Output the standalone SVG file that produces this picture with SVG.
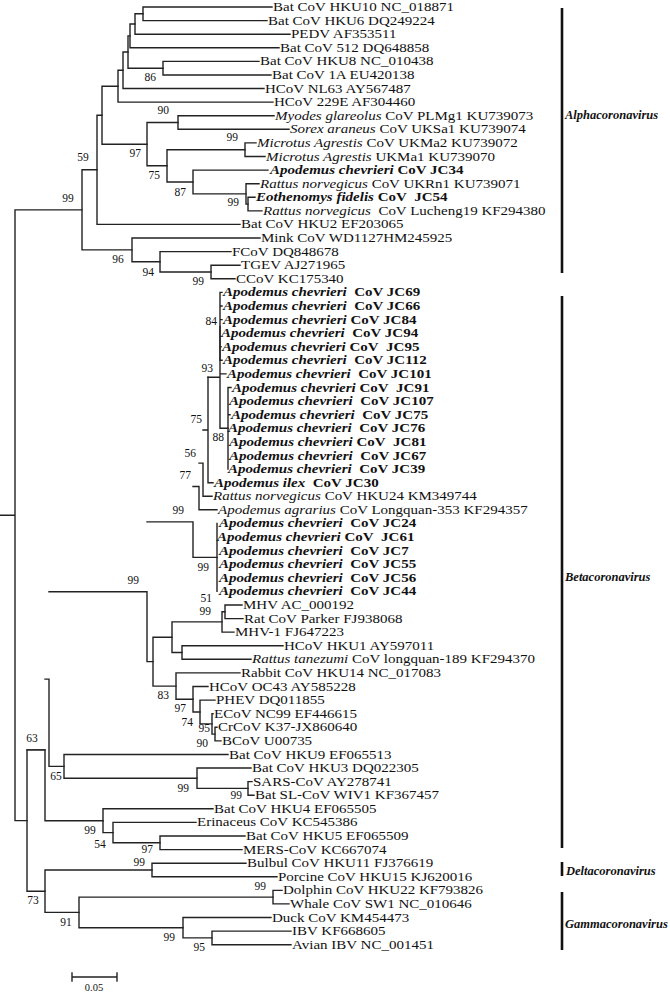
<svg xmlns="http://www.w3.org/2000/svg" width="670" height="992" viewBox="0 0 670 992">
<style>
text{font-family:"Liberation Serif","Times New Roman",serif;fill:#111}
.t text{font-size:12px}
.b{font-weight:bold}
.i{font-style:italic}
.bs text{font-size:11.5px;text-anchor:middle;fill:#111}
.cl{font-size:12.5px;font-weight:bold;font-style:italic}
.br{stroke:#222;stroke-width:1.4;fill:none;stroke-linecap:square}
.bar{stroke:#111;stroke-width:2.6}
</style>
<rect width="670" height="992" fill="#fff"/>
<g id="connectors" class="br">
<path d="M0,515.2 H15 M82,209.9 H15 V820.6 H27"/>
<path d="M97,169.8 H82 V249.9 H132"/>
<path d="M102,115.2 H97 V224.4 H240"/>
<path d="M118,86.2 H102 V144.2 H147"/>
<path d="M123,70.3 H118 V102.1 H273"/>
<path d="M128,52 H123 V88.5 H264"/>
<path d="M130,35.9 H128 V68.2 H163"/>
<path d="M135,24 H130 V47.8 H279"/>
<path d="M143,13.8 H135 V34.2 H290"/>
<path d="M272,7 H143 V20.6 H267"/>
<path d="M259,61.4 H163 V75 H271"/>
<path d="M178,122.5 H147 V165.8 H167"/>
<path d="M274,115.7 H178 V129.3 H289"/>
<path d="M245,149.7 H167 V182 H193"/>
<path d="M256,142.9 H245 V156.5 H265"/>
<path d="M268,170.1 H193 V193.9 H246"/>
<path d="M259,183.7 H246 V204.1 H248"/>
<path d="M255,197.3 H248 V210.9 H262"/>
<path d="M260,238 H132 V261.8 H160"/>
<path d="M231,251.6 H160 V272 H211"/>
<path d="M240,265.2 H211 V278.8 H235"/>
<path d="M220,292.4 V360.3 M220,292.4 H222 M220,306 H222 M220,319.6 H222 M220,346.8 H221 M220,360.3 H222"/>
<path d="M208,377.3 H220 M220,326.4 V428.3 H228 M220,373.9 H226"/>
<path d="M228,387.5 V469.1 M228,387.5 H231 M228,414.7 H230"/>
<path d="M203,430 H208 M208,377.3 V482.7 H213"/>
<path d="M199,463.1 H203 V496.2 H212"/>
<path d="M193,486.5 H199 V509.8 H217"/>
<path d="M147,521.9 H193 V557.4 H217"/>
<path d="M217,523.4 V591.4"/>
<path d="M49,591.8 H147 V661.6 H153"/>
<path d="M172,637.2 H153 V686.1 H176"/>
<path d="M222,621.9 H172 V652.5 H182"/>
<path d="M225,611.8 H222 V632.1 H234"/>
<path d="M242,605 H225 V618.6 H243"/>
<path d="M283,645.7 H182 V659.3 H251"/>
<path d="M240,672.9 H176 V699.2 H193"/>
<path d="M208,686.5 H193 V712 H200"/>
<path d="M215,700.1 H200 V723.9 H212"/>
<path d="M213,713.7 H212 V734.1 H215"/>
<path d="M217,727.3 H215 V740.9 H221"/>
<path d="M45,679.1 H49 V766.4 H64"/>
<path d="M228,754.5 H64 V778.2 H197"/>
<path d="M251,768 H197 V788.4 H248"/>
<path d="M252,781.6 H248 V795.2 H254"/>
<path d="M27,749.9 H45 V820.7 H103"/>
<path d="M213,808.8 H103 V832.6 H113"/>
<path d="M196,822.4 H113 V842.8 H160"/>
<path d="M245,836 H160 V849.6 H242"/>
<path d="M45,749.9 H27 V891.2 H45"/>
<path d="M152,870 H45 V912.4 H79"/>
<path d="M246,863.2 H152 V876.8 H277"/>
<path d="M273,897.1 H79 V927.7 H183"/>
<path d="M282,890.4 H273 V903.9 H289"/>
<path d="M271,917.5 H183 V937.9 H212"/>
<path d="M291,931.1 H212 V944.7 H291"/>
</g>
<g id="tips" class="t">
<g id="t01"><text transform="translate(273,11) scale(1.25,1)">Bat CoV HKU10 NC_018871</text></g>
<g id="t02"><text transform="translate(268,24.6) scale(1.25,1)">Bat CoV HKU6 DQ249224</text></g>
<g id="t03"><text transform="translate(291,38.2) scale(1.25,1)">PEDV AF353511</text></g>
<g id="t04"><text transform="translate(280,51.8) scale(1.25,1)">Bat CoV 512 DQ648858</text></g>
<g id="t05"><text transform="translate(260,65.4) scale(1.25,1)">Bat CoV HKU8 NC_010438</text></g>
<g id="t06"><text transform="translate(272,79) scale(1.25,1)">Bat CoV 1A EU420138</text></g>
<g id="t07"><text transform="translate(265,92.5) scale(1.25,1)">HCoV NL63 AY567487</text></g>
<g id="t08"><text transform="translate(274,106.1) scale(1.25,1)">HCoV 229E AF304460</text></g>
<g id="t09"><text transform="translate(275,119.7) scale(1.25,1)"><tspan class="i">Myodes glareolus</tspan> CoV PLMg1 KU739073</text></g>
<g id="t10"><text transform="translate(290,133.3) scale(1.25,1)"><tspan class="i">Sorex araneus</tspan> CoV UKSa1 KU739074</text></g>
<g id="t11"><text transform="translate(257,146.9) scale(1.25,1)"><tspan class="i">Microtus Agrestis</tspan> CoV UKMa2 KU739072</text></g>
<g id="t12"><text transform="translate(266,160.5) scale(1.25,1)"><tspan class="i">Microtus Agrestis</tspan> UKMa1 KU739070</text></g>
<g id="t13"><text transform="translate(270,174.1) scale(1.25,1)" class="b"><tspan class="i">Apodemus chevrieri</tspan> CoV JC34</text></g>
<g id="t14"><text transform="translate(260,187.7) scale(1.25,1)"><tspan class="i">Rattus norvegicus</tspan> CoV UKRn1 KU739071</text></g>
<g id="t15"><text transform="translate(256,201.3) scale(1.25,1)" class="b"><tspan class="i">Eothenomys fidelis</tspan> CoV&#160; JC54</text></g>
<g id="t16"><text transform="translate(263,214.9) scale(1.25,1)"><tspan class="i">Rattus norvegicus</tspan>&#160; CoV Lucheng19 KF294380</text></g>
<g id="t17"><text transform="translate(241,228.4) scale(1.25,1)">Bat CoV HKU2 EF203065</text></g>
<g id="t18"><text transform="translate(261,242) scale(1.25,1)">Mink CoV WD1127HM245925</text></g>
<g id="t19"><text transform="translate(232,255.6) scale(1.25,1)">FCoV DQ848678</text></g>
<g id="t20"><text transform="translate(241,269.2) scale(1.25,1)">TGEV AJ271965</text></g>
<g id="t21"><text transform="translate(236,282.8) scale(1.25,1)">CCoV KC175340</text></g>
<g id="t22"><text transform="translate(223,296.4) scale(1.25,1)" class="b"><tspan class="i">Apodemus chevrieri</tspan>&#160; CoV JC69</text></g>
<g id="t23"><text transform="translate(223,310) scale(1.25,1)" class="b"><tspan class="i">Apodemus chevrieri</tspan>&#160; CoV JC66</text></g>
<g id="t24"><text transform="translate(223,323.6) scale(1.25,1)" class="b"><tspan class="i">Apodemus chevrieri</tspan> CoV JC84</text></g>
<g id="t25"><text transform="translate(221,337.2) scale(1.25,1)" class="b"><tspan class="i">Apodemus chevrieri</tspan>&#160; CoV JC94</text></g>
<g id="t26"><text transform="translate(222,350.8) scale(1.25,1)" class="b"><tspan class="i">Apodemus chevrieri</tspan> CoV&#160; JC95</text></g>
<g id="t27"><text transform="translate(223,364.3) scale(1.25,1)" class="b"><tspan class="i">Apodemus chevrieri</tspan>&#160; CoV JC112</text></g>
<g id="t28"><text transform="translate(227,377.9) scale(1.25,1)" class="b"><tspan class="i">Apodemus chevrieri</tspan>&#160; CoV JC101</text></g>
<g id="t29"><text transform="translate(232,391.5) scale(1.25,1)" class="b"><tspan class="i">Apodemus chevrieri</tspan> CoV&#160; JC91</text></g>
<g id="t30"><text transform="translate(229,405.1) scale(1.25,1)" class="b"><tspan class="i">Apodemus chevrieri</tspan>&#160; CoV JC107</text></g>
<g id="t31"><text transform="translate(231,418.7) scale(1.25,1)" class="b"><tspan class="i">Apodemus chevrieri</tspan>&#160; CoV JC75</text></g>
<g id="t32"><text transform="translate(228,432.3) scale(1.25,1)" class="b"><tspan class="i">Apodemus chevrieri</tspan>&#160; CoV JC76</text></g>
<g id="t33"><text transform="translate(229,445.9) scale(1.25,1)" class="b"><tspan class="i">Apodemus chevrieri</tspan> CoV&#160; JC81</text></g>
<g id="t34"><text transform="translate(229,459.5) scale(1.25,1)" class="b"><tspan class="i">Apodemus chevrieri</tspan>&#160; CoV JC67</text></g>
<g id="t35"><text transform="translate(228,473.1) scale(1.25,1)" class="b"><tspan class="i">Apodemus chevrieri</tspan>&#160; CoV JC39</text></g>
<g id="t36"><text transform="translate(214,486.7) scale(1.25,1)" class="b"><tspan class="i">Apodemus ilex</tspan>&#160; CoV JC30</text></g>
<g id="t37"><text transform="translate(213,500.2) scale(1.25,1)"><tspan class="i">Rattus norvegicus</tspan> CoV HKU24 KM349744</text></g>
<g id="t38"><text transform="translate(218,513.8) scale(1.25,1)"><tspan class="i">Apodemus agrarius</tspan> CoV Longquan-353 KF294357</text></g>
<g id="t39"><text transform="translate(219,527.4) scale(1.25,1)" class="b"><tspan class="i">Apodemus chevrieri</tspan>&#160; CoV JC24</text></g>
<g id="t40"><text transform="translate(217,541) scale(1.25,1)" class="b"><tspan class="i">Apodemus chevrieri</tspan> CoV&#160; JC61</text></g>
<g id="t41"><text transform="translate(219,554.6) scale(1.25,1)" class="b"><tspan class="i">Apodemus chevrieri</tspan>&#160; CoV JC7</text></g>
<g id="t42"><text transform="translate(219,568.2) scale(1.25,1)" class="b"><tspan class="i">Apodemus chevrieri</tspan>&#160; CoV JC55</text></g>
<g id="t43"><text transform="translate(219,581.8) scale(1.25,1)" class="b"><tspan class="i">Apodemus chevrieri</tspan>&#160; CoV JC56</text></g>
<g id="t44"><text transform="translate(219,595.4) scale(1.25,1)" class="b"><tspan class="i">Apodemus chevrieri</tspan>&#160; CoV JC44</text></g>
<g id="t45"><text transform="translate(243,609) scale(1.25,1)">MHV AC_000192</text></g>
<g id="t46"><text transform="translate(244,622.6) scale(1.25,1)">Rat CoV Parker FJ938068</text></g>
<g id="t47"><text transform="translate(235,636.1) scale(1.25,1)">MHV-1 FJ647223</text></g>
<g id="t48"><text transform="translate(284,649.7) scale(1.25,1)">HCoV HKU1 AY597011</text></g>
<g id="t49"><text transform="translate(252,663.3) scale(1.25,1)"><tspan class="i">Rattus tanezumi</tspan> CoV longquan-189 KF294370</text></g>
<g id="t50"><text transform="translate(241,676.9) scale(1.25,1)">Rabbit CoV HKU14 NC_017083</text></g>
<g id="t51"><text transform="translate(209,690.5) scale(1.25,1)">HCoV OC43 AY585228</text></g>
<g id="t52"><text transform="translate(216,704.1) scale(1.25,1)">PHEV DQ011855</text></g>
<g id="t53"><text transform="translate(214,717.7) scale(1.25,1)">ECoV NC99 EF446615</text></g>
<g id="t54"><text transform="translate(218,731.3) scale(1.25,1)">CrCoV K37-JX860640</text></g>
<g id="t55"><text transform="translate(222,744.9) scale(1.25,1)">BCoV U00735</text></g>
<g id="t56"><text transform="translate(229,758.5) scale(1.25,1)">Bat CoV HKU9 EF065513</text></g>
<g id="t57"><text transform="translate(252,772) scale(1.25,1)">Bat CoV HKU3 DQ022305</text></g>
<g id="t58"><text transform="translate(253,785.6) scale(1.25,1)">SARS-CoV AY278741</text></g>
<g id="t59"><text transform="translate(255,799.2) scale(1.25,1)">Bat SL-CoV WIV1 KF367457</text></g>
<g id="t60"><text transform="translate(214,812.8) scale(1.25,1)">Bat CoV HKU4 EF065505</text></g>
<g id="t61"><text transform="translate(197,826.4) scale(1.25,1)">Erinaceus CoV KC545386</text></g>
<g id="t62"><text transform="translate(246,840) scale(1.25,1)">Bat CoV HKU5 EF065509</text></g>
<g id="t63"><text transform="translate(243,853.6) scale(1.25,1)">MERS-CoV KC667074</text></g>
<g id="t64"><text transform="translate(247,867.2) scale(1.25,1)">Bulbul CoV HKU11 FJ376619</text></g>
<g id="t65"><text transform="translate(278,880.8) scale(1.25,1)">Porcine CoV HKU15 KJ620016</text></g>
<g id="t66"><text transform="translate(283,894.4) scale(1.25,1)">Dolphin CoV HKU22 KF793826</text></g>
<g id="t67"><text transform="translate(290,907.9) scale(1.25,1)">Whale CoV SW1 NC_010646</text></g>
<g id="t68"><text transform="translate(272,921.5) scale(1.25,1)">Duck CoV KM454473</text></g>
<g id="t69"><text transform="translate(292,935.1) scale(1.25,1)">IBV KF668605</text></g>
<g id="t70"><text transform="translate(292,948.7) scale(1.25,1)">Avian IBV NC_001451</text></g>
</g>
<g id="bootstrap" class="bs" fill="#111" transform="scale(1.001,1)">
<text x="150" y="81">86</text>
<text x="163" y="114">90</text>
<text x="135" y="157">97</text>
<text x="232" y="141">99</text>
<text x="154" y="179">75</text>
<text x="180" y="196">87</text>
<text x="233" y="206">99</text>
<text x="83" y="161">59</text>
<text x="68" y="202">99</text>
<text x="118" y="263">96</text>
<text x="148" y="276">94</text>
<text x="198" y="285">99</text>
<text x="211" y="325">84</text>
<text x="207" y="372">93</text>
<text x="196" y="423">75</text>
<text x="218" y="441">88</text>
<text x="190" y="457">56</text>
<text x="185" y="479">77</text>
<text x="178" y="514">99</text>
<text x="203" y="571">99</text>
<text x="206" y="602">51</text>
<text x="205" y="615">99</text>
<text x="133" y="584">99</text>
<text x="163" y="699">83</text>
<text x="180" y="712">97</text>
<text x="187" y="726">74</text>
<text x="204" y="732">95</text>
<text x="202" y="747">90</text>
<text x="32" y="742">63</text>
<text x="56" y="780">65</text>
<text x="183" y="792">99</text>
<text x="236" y="799">99</text>
<text x="90" y="834">99</text>
<text x="100" y="848">54</text>
<text x="147" y="853">97</text>
<text x="139" y="866.5">99</text>
<text x="33" y="904">73</text>
<text x="260" y="890">99</text>
<text x="66" y="926">91</text>
<text x="169" y="941">99</text>
<text x="199" y="951">95</text>
</g>
<g id="clades">
<line class="bar" x1="562" y1="8" x2="562" y2="273"/>
<text class="cl" x="565" y="119">Alphacoronavirus</text>
<line class="bar" x1="562" y1="296" x2="562" y2="848"/>
<text class="cl" x="565" y="581">Betacoronavirus</text>
<line class="bar" x1="562" y1="862" x2="562" y2="876"/>
<text class="cl" x="566" y="875">Deltacoronavirus</text>
<line class="bar" x1="562" y1="892" x2="562" y2="950"/>
<text class="cl" x="565" y="928">Gammacoronavirus</text>
</g>
<g id="scale">
<path class="br" d="M72,977 H117 M72,973 V981 M117,973 V981"/>
<text x="94" y="991" style="font-size:10.5px;text-anchor:middle">0.05</text>
</g>
</svg>
